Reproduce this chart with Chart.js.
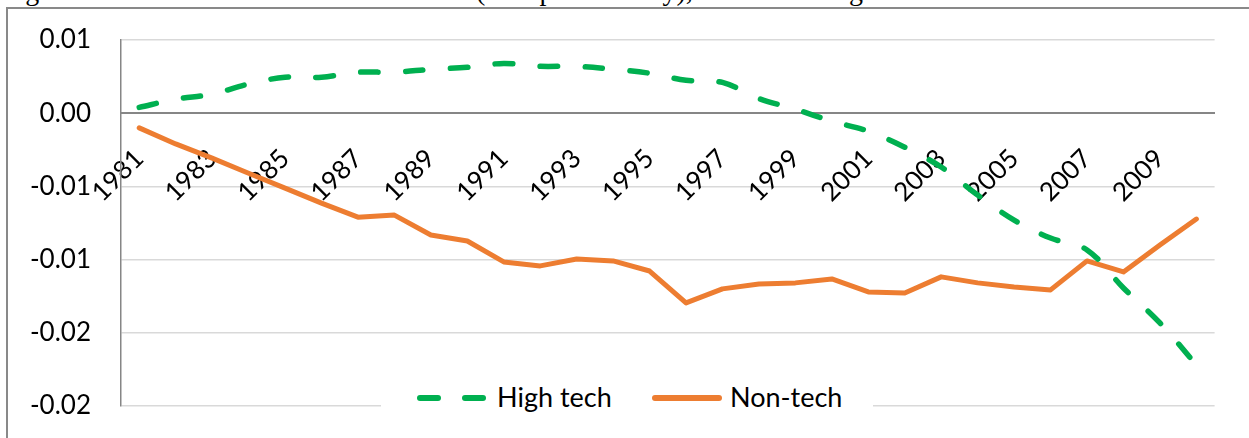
<!DOCTYPE html>
<html>
<head>
<meta charset="utf-8">
<script src="https://cdn.jsdelivr.net/npm/chart.js@4.4.0/dist/chart.umd.min.js"></script>
<style>
  html, body { margin: 0; padding: 0; background: #fff; overflow: hidden; }
  #wrap { position: relative; width: 1249px; height: 438px; }
  .title {
    position: absolute; top: -23px; white-space: nowrap;
    font: 28px/28px "Liberation Serif", serif; color: #000;
  }
  #frame {
    position: absolute; left: 6px; top: 7px; width: 1260px; height: 450px;
    border: 2px solid #898989; box-sizing: border-box;
  }
  canvas { position: absolute; left: 0; top: 0; }
  #legend {
    position: absolute; left: 381px; top: 378px; width: 492px; height: 40px;
    background: #fff; font: 27px "Lato", sans-serif; color: #000;
  }
  .item { position: absolute; top: 3px; height: 32px; line-height: 32px; white-space: nowrap; }
  .dash { position: absolute; top: 17px; height: 5.5px; border-radius: 3px; }
</style>
</head>
<body>
<div id="wrap">
  <div class="title" style="left:2px">Figure 3.6: Predicted relative to actual</div>
  <div class="title" style="left:476px">(TFP productivity), manufacturing</div>
  <div id="frame"></div>
  <canvas id="c" width="1249" height="438"></canvas>
  <div id="legend">
    <span class="dash" style="left:36px;width:24px;background:#00b050"></span>
    <span class="dash" style="left:81px;width:24px;background:#00b050"></span>
    <span class="item" style="left:116px">High tech</span>
    <span class="dash" style="left:271px;width:70px;background:#ed7d31"></span>
    <span class="item" style="left:349px">Non-tech</span>
  </div>
</div>
<script>
const years = [
  "1981", "1982", "1983", "1984", "1985", "1986", "1987", "1988", "1989", "1990",
  "1991", "1992", "1993", "1994", "1995", "1996", "1997", "1998", "1999", "2000",
  "2001", "2002", "2003", "2004", "2005", "2006", "2007", "2008", "2009", "2010"
];

const highTech = [
  0.0004, 0.00095, 0.0013, 0.002, 0.00246, 0.00246, 0.0028, 0.0028, 0.003, 0.00314,
  0.0034, 0.0032, 0.0032, 0.003, 0.00273, 0.00225, 0.0021, 0.001, 0.00027, -0.00055,
  -0.00123, -0.00232, -0.00368, -0.00559, -0.0073, -0.00853, -0.00934, -0.01194, -0.01432, -0.0172
];

const nonTech = [
  -0.001, -0.0021, -0.00307, -0.0041, -0.00512, -0.00614, -0.0071, -0.00696, -0.00832, -0.00873,
  -0.01016, -0.01043, -0.00996, -0.01009, -0.01078, -0.01296, -0.012, -0.01166, -0.01159, -0.01132,
  -0.01221, -0.01228, -0.01118, -0.01159, -0.01187, -0.01207, -0.01009, -0.01084, -0.009, -0.00723
];

const yTicks = { min: -0.02, max: 0.005, step: 0.005 };

// excel style rounding, half away from zero
const fmt = (v) => {
  const r = Math.round(Math.abs(v) * 100 + 1e-9) / 100;
  return (v < -1e-12 && r !== 0 ? "-" : "") + r.toFixed(2);
};

const font = { family: "Lato", size: 26 };

new Chart(document.getElementById("c"), {
  type: "line",
  data: {
    labels: years,
    datasets: [
      {
        label: "High tech",
        data: highTech,
        borderColor: "#00b050",
        borderWidth: 5.5,
        borderDash: [17.5, 27.5],
        borderCapStyle: "round",
        tension: 0.35,
        pointRadius: 0,
        fill: false
      },
      {
        label: "Non-tech",
        data: nonTech,
        borderColor: "#ed7d31",
        borderWidth: 5,
        borderCapStyle: "round",
        borderJoinStyle: "round",
        tension: 0,
        pointRadius: 0,
        fill: false
      }
    ]
  },
  options: {
    responsive: false,
    animation: false,
    devicePixelRatio: 1,
    layout: { padding: { left: 0, top: 40, right: 34, bottom: 32 } },
    plugins: { legend: { display: false }, tooltip: { enabled: false } },
    scales: {
      x: {
        type: "category",
        offset: true,
        position: { y: 0 },
        grid: { display: false, drawTicks: false },
        border: { display: true, color: "#868686", width: 2 },
        afterFit: (s) => { s.height = 0; },
        ticks: {
          autoSkip: false,
          minRotation: 45,
          maxRotation: 45,
          padding: 30,
          color: "#000",
          font: font,
          callback: (v, i) => (i % 2 === 0 ? years[i] : "")
        }
      },
      y: {
        min: yTicks.min,
        max: yTicks.max,
        afterFit: (s) => { s.width = 121; s.paddingTop = 0; s.paddingBottom = 0; },
        grid: { color: "#d9d9d9", lineWidth: 1.5, drawTicks: false },
        border: { display: true, color: "#868686", width: 1.5 },
        ticks: {
          stepSize: yTicks.step,
          padding: 30,
          color: "#000",
          font: font,
          callback: (v) => fmt(v)
        }
      }
    }
  }
});
</script>
</body>
</html>
